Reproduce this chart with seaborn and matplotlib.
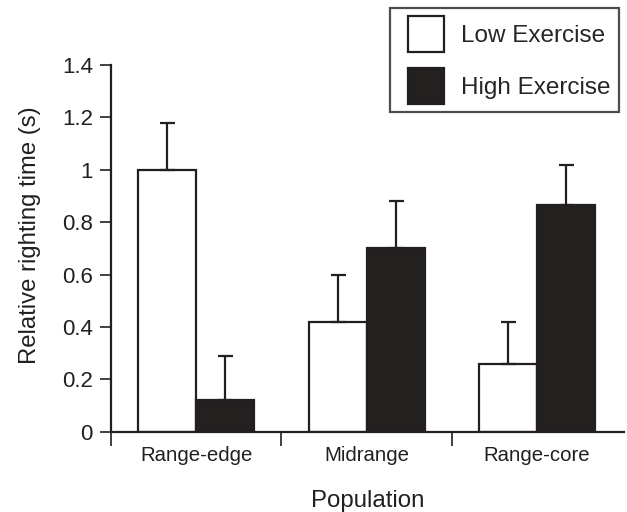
import numpy as np
import pandas as pd
import matplotlib
matplotlib.use("Agg")
import matplotlib.pyplot as plt
from matplotlib.patches import Rectangle
from matplotlib.legend_handler import HandlerPatch
import seaborn as sns

# data
populations = ["Range-edge", "Midrange", "Range-core"]
groups = ["Low Exercise", "High Exercise"]
low_vals = [1.00, 0.42, 0.26]
high_vals = [0.12, 0.70, 0.865]
low_err = [0.18, 0.18, 0.16]
high_err = [0.17, 0.18, 0.155]

ink = "#231f20"

sns.set_style("ticks")
plt.rcParams["font.family"] = ["Liberation Sans", "DejaVu Sans"]

df = pd.DataFrame({
    "Population": populations * 2,
    "Group": [groups[0]] * 3 + [groups[1]] * 3,
    "value": low_vals + high_vals,
    "err": low_err + high_err,
})

fig = plt.figure(figsize=(6.27, 5.12), dpi=100)
ax = fig.add_axes([0.177, 0.157, 0.818, 0.716])

sns.barplot(data=df, x="Population", y="value", hue="Group",
            order=populations, hue_order=groups,
            palette={groups[0]: "white", groups[1]: ink},
            edgecolor=ink, linewidth=1.6, width=0.68,
            errorbar=None, ax=ax)

# upper-only error bars at bar centres
xs, ys, es = [], [], []
for bars, g in zip(ax.containers, groups):
    sub = df[df["Group"] == g].set_index("Population").loc[populations]
    for patch, v, e in zip(bars, sub["value"], sub["err"]):
        xs.append(patch.get_x() + patch.get_width() / 2)
        ys.append(v)
        es.append(e)
ax.errorbar(xs, ys, yerr=[np.zeros(len(es)), es], fmt="none",
            ecolor=ink, elinewidth=1.6, capsize=5.4, capthick=1.6, zorder=1)


# square legend keys with a little space on their left
def square_key(legend, orig_handle, xdescent, ydescent, width, height, fontsize):
    return Rectangle((-xdescent + 7.2, -ydescent), height, height)


handles, labels = ax.get_legend_handles_labels()
ax.get_legend().remove()
fs = 17.5
leg = fig.legend(handles, labels, loc="upper right",
                 bbox_to_anchor=(619 / 627, 1 - 8 / 512),
                 fontsize=fs, frameon=True, fancybox=False,
                 handlelength=33.1 / fs, handleheight=1.9,
                 labelspacing=0.66, handletextpad=0.7, borderpad=0.33,
                 borderaxespad=0,
                 handler_map={h: HandlerPatch(patch_func=square_key) for h in handles})
leg.get_frame().set_edgecolor(ink)
leg.get_frame().set_linewidth(1.6)
for h in leg.legend_handles:
    h.set_edgecolor(ink)
    h.set_linewidth(1.6)

ax.set_xlim(-0.5, 2.51)
ax.set_ylim(0, 1.4)
ax.set_yticks([0, 0.2, 0.4, 0.6, 0.8, 1.0, 1.2, 1.4])
ax.set_yticklabels(["0", "0.2", "0.4", "0.6", "0.8", "1", "1.2", "1.4"])
ax.set_xticks([0, 1, 2])
ax.set_xticks([-0.5, 0.5, 1.5], minor=True)
ax.tick_params(axis="x", which="major", length=0, pad=10, labelsize=14.7, colors=ink)
ax.tick_params(axis="x", which="minor", length=10, width=1.2, color=ink)
ax.tick_params(axis="y", length=8, width=1.2, pad=5, labelsize=16, colors=ink)

ax.set_xlabel("Population", fontsize=17.3, labelpad=18, color=ink)
ax.set_ylabel("Relative righting time (s)", fontsize=17.2, color=ink)
ax.yaxis.set_label_coords(-0.137, 0.537)

sns.despine(ax=ax)
for s in ["left", "bottom"]:
    ax.spines[s].set_color(ink)
    ax.spines[s].set_linewidth(1.6)

fig.savefig("out.png", dpi=100)
